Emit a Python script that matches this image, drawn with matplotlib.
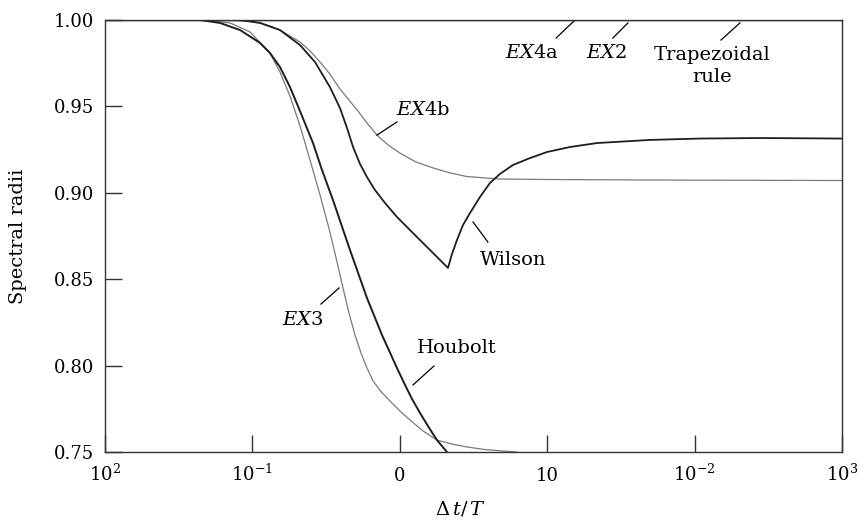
import matplotlib
matplotlib.use("Agg")
import matplotlib.pyplot as plt

# spectral radii vs dt/T
EX4B_X = [0.01, 0.0762, 0.0964, 0.1127, 0.1316, 0.1538, 0.1799, 0.2104, 0.2460, 0.2877,
          0.3357, 0.3926, 0.4522, 0.5204, 0.599, 0.6998, 0.8317, 1.003, 1.288, 1.68,
          2.191, 2.858, 3.784, 4.78, 9.97, 49.8, 1000]
EX4B_Y = [1.0, 0.9997, 0.9991, 0.9983, 0.9965, 0.9942, 0.9907, 0.9873, 0.9821, 0.9757,
          0.9687, 0.9601, 0.9537, 0.9473, 0.9404, 0.9334, 0.9277, 0.9230, 0.9178, 0.9144,
          0.9115, 0.9094, 0.9086, 0.9080, 0.9077, 0.9074, 0.9071]

WILSON_X = [0.01, 0.0824, 0.1127, 0.1538, 0.2104, 0.2659, 0.3357, 0.3926, 0.4383, 0.4819,
            0.5370, 0.599, 0.6787, 0.7938, 0.957, 1.229, 1.603, 2.123, 2.260, 2.444,
            2.685, 2.994, 3.501, 4.09, 4.78, 5.86, 7.64, 9.97, 14.28, 21.8, 49.8,
            108.8, 278, 1000]
WILSON_Y = [1.0, 1.0, 0.9983, 0.9942, 0.9855, 0.9757, 0.9612, 0.9491, 0.9375, 0.9265,
            0.9167, 0.9091, 0.9016, 0.8941, 0.8860, 0.8767, 0.8669, 0.8565, 0.8646, 0.8727,
            0.8814, 0.8883, 0.8976, 0.9057, 0.9109, 0.9161, 0.9201, 0.9236, 0.9265, 0.9288,
            0.9306, 0.9314, 0.9317, 0.9314]

HOUBOLT_X = [0.01, 0.0441, 0.0603, 0.0824, 0.1127, 0.1316, 0.1538, 0.1799, 0.2104, 0.2577,
             0.2966, 0.3522, 0.4592, 0.599, 0.7572, 0.957, 1.085, 1.210, 1.371, 1.553,
             1.787, 2.089]
HOUBOLT_Y = [1.0, 1.0, 0.9983, 0.9942, 0.9867, 0.9809, 0.9728, 0.9612, 0.9473, 0.9288,
             0.9132, 0.8958, 0.8669, 0.8391, 0.8177, 0.7986, 0.7888, 0.7807, 0.7726, 0.7650,
             0.7569, 0.7500]

EX3_X = [0.01, 0.0477, 0.0705, 0.0964, 0.1316, 0.1538, 0.1799, 0.2104, 0.2460, 0.2877,
         0.3357, 0.3750, 0.4118, 0.4522, 0.4967, 0.5455, 0.599, 0.6580, 0.7345, 0.8580,
         1.003, 1.173, 1.437, 1.787, 2.260, 2.858, 3.784, 4.78, 6.24]
EX3_Y = [1.0, 1.0, 0.9983, 0.9931, 0.9809, 0.9699, 0.9560, 0.9387, 0.9190, 0.8987,
         0.8773, 0.8600, 0.8449, 0.8304, 0.8177, 0.8073, 0.7986, 0.7912, 0.7856, 0.7795,
         0.7737, 0.7685, 0.7622, 0.7569, 0.7546, 0.7529, 0.7514, 0.7507, 0.7500]

# EX4a, EX2 and the trapezoidal rule stay at 1.0 over the whole range
FLAT_X = [0.01, 1000]
FLAT_Y = [1.0, 1.0]

XTICKS = [0.01, 0.1, 1, 10, 100, 1000]
XTICK_LABELS = ["$10^2$", "$10^{-1}$", "0", "10", "$10^{-2}$", "$10^3$"]
YTICKS = [0.75, 0.80, 0.85, 0.90, 0.95, 1.00]

# label text, text position, pointer start, pointer end (data coords)
LABELS = [
    ("$EX$4a", (7.89, 0.9809), (11.5, 0.9896), (15.2, 0.9994)),
    ("$EX$2", (25.1, 0.9809), (27.9, 0.9896), (35.3, 0.9983)),
    ("$EX$4b", (1.436, 0.9479), (0.957, 0.9410), (0.700, 0.9334)),
    ("Wilson", (5.86, 0.8611), (3.96, 0.8715), (3.14, 0.8831)),
    ("Houbolt", (2.44, 0.8102), (1.706, 0.7998), (1.229, 0.7888)),
    ("$EX$3", (0.2203, 0.8264), (0.2917, 0.8356), (0.3869, 0.8449)),
]


def main():
    plt.rcParams["font.family"] = "DejaVu Serif"
    plt.rcParams["mathtext.fontset"] = "dejavuserif"

    fig = plt.figure(figsize=(8.59, 5.20), dpi=100)
    ax = fig.add_axes([105 / 859, 68 / 520, 737 / 859, 432 / 520])

    dark = "#1e1e1e"
    grey = "#7a7a7a"
    ax.plot(FLAT_X, FLAT_Y, color=dark, linewidth=1.0)
    ax.plot(EX4B_X, EX4B_Y, color=grey, linewidth=0.9)
    ax.plot(EX3_X, EX3_Y, color=grey, linewidth=0.9)
    ax.plot(WILSON_X, WILSON_Y, color=dark, linewidth=1.3)
    ax.plot(HOUBOLT_X, HOUBOLT_Y, color=dark, linewidth=1.4)

    ax.set_xscale("log")
    ax.set_xlim(0.01, 1000)
    ax.set_ylim(0.75, 1.00)
    ax.set_xticks(XTICKS)
    ax.set_xticklabels(XTICK_LABELS)
    ax.minorticks_off()
    ax.set_yticks(YTICKS)
    ax.set_yticklabels([f"{v:.2f}" for v in YTICKS])
    ax.tick_params(direction="in", length=12, width=1.0, color="#333333",
                   labelsize=13, top=False, right=False)
    ax.tick_params(axis="y", pad=8)
    ax.tick_params(axis="x", pad=21)
    plt.setp(ax.get_xticklabels(), va="baseline")
    for s in ax.spines.values():
        s.set_color("#333333")
        s.set_linewidth(1.0)

    for text, pos, p0, p1 in LABELS:
        ax.text(pos[0], pos[1], text, fontsize=14, ha="center", va="center")
        ax.plot([p0[0], p1[0]], [p0[1], p1[1]], color="black", linewidth=0.9)
    ax.plot([151, 203], [0.9884, 0.9983], color="black", linewidth=0.9)
    ax.text(131, 0.9734, "Trapezoidal\nrule", fontsize=14, ha="center", va="center",
            linespacing=1.35)

    fig.text(18 / 859, 1 - 236 / 520, "Spectral radii", rotation=90, fontsize=14,
             ha="center", va="center")
    fig.text(460 / 859, 1 - 509 / 520, r"$\mathit{\Delta}\,t/\,T$", fontsize=14,
             ha="center", va="center")

    fig.savefig("out.png", dpi=100)
    plt.close(fig)


if __name__ == "__main__":
    main()
